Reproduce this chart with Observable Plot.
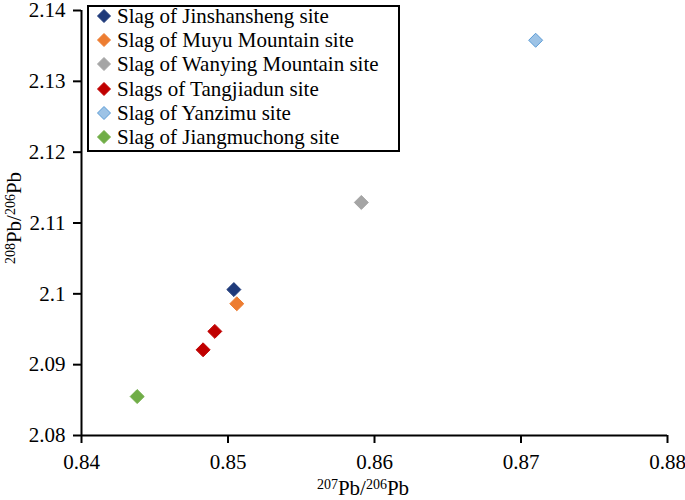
<!DOCTYPE html>
<html>
<head>
<meta charset="utf-8">
<script src="https://cdn.jsdelivr.net/npm/d3@7"></script>
<script src="https://cdn.jsdelivr.net/npm/@observablehq/plot@0.6"></script>
<style>
  body { margin: 0; background: #fff; }
  #wrap { position: relative; width: 685px; height: 500px; font-family: "Liberation Serif", "Times New Roman", serif; }
  #wrap svg text { font-family: "Liberation Serif", "Times New Roman", serif; }
  #legend { position: absolute; left: 87px; top: 5px; width: 309px; border: 2px solid #000; background: #fff; padding: 0 0 1px 0; font-size: 21px; line-height: 24.2px; color: #000; }
  #legend .row { display: flex; align-items: center; height: 24.2px; white-space: nowrap; }
  #legend .row:first-child { margin-top: -3px; }
  #legend svg { margin: 0 6px 0 8px; flex: none; }
</style>
</head>
<body>
<div id="wrap"></div>
<script>
// ---- data ----
const sites = [
  "Slag of Jinshansheng site",
  "Slag of Muyu Mountain site",
  "Slag of Wanying Mountain site",
  "Slags of Tangjiadun site",
  "Slag of Yanzimu site",
  "Slag of Jiangmuchong site"
];
const siteFill   = ["#1F3A7A", "#ED7D31", "#A5A5A5", "#C00000", "#9DC3E6", "#70AD47"];
const siteStroke = ["#1F3A7A", "#ED7D31", "#A5A5A5", "#C00000", "#5B9BD5", "#70AD47"];
const pointSite = ["Slag of Jinshansheng site", "Slag of Muyu Mountain site", "Slag of Wanying Mountain site", "Slags of Tangjiadun site", "Slags of Tangjiadun site", "Slag of Yanzimu site", "Slag of Jiangmuchong site"];
const pb207_206 = [0.8504, 0.8506, 0.8591, 0.8491, 0.8483, 0.8710, 0.8438];
const pb208_206 = [2.1006, 2.0986, 2.1129, 2.0947, 2.0921, 2.1358, 2.0855];
const xTicks = [0.84, 0.85, 0.86, 0.87, 0.88];
const xTickLabels = ["0.84", "0.85", "0.86", "0.87", "0.88"];
const yTicks = [2.08, 2.09, 2.10, 2.11, 2.12, 2.13, 2.14];
const yTickLabels = ["2.08", "2.09", "2.1", "2.11", "2.12", "2.13", "2.14"];
const xLabelParts = [["207", true], ["Pb/", false], ["206", true], ["Pb", false]];
const yLabelParts = [["208", true], ["Pb/", false], ["206", true], ["Pb", false]];

const points = pointSite.map((s, i) => ({site: s, x: pb207_206[i], y: pb208_206[i]}));
const serif = '"Liberation Serif", "Times New Roman", serif';
const fmtX = d => xTickLabels[xTicks.findIndex(t => Math.abs(t - d) < 1e-9)];
const fmtY = d => yTickLabels[yTicks.findIndex(t => Math.abs(t - d) < 1e-9)];

const chart = Plot.plot({
  width: 685,
  height: 500,
  marginLeft: 81,
  marginRight: 18,
  marginTop: 10,
  marginBottom: 65,
  style: {fontFamily: serif, fontSize: "21px", color: "#000", background: "#fff"},
  x: {domain: [0.84, 0.88], label: null},
  y: {domain: [2.08, 2.14], label: null},
  marks: [
    Plot.axisX({ticks: xTicks, tickFormat: fmtX, tickSize: 8, tickPadding: 11, strokeWidth: 2, label: null, fontSize: 21, fontFamily: serif, fill: "#000"}),
    Plot.axisY({ticks: yTicks, tickFormat: fmtY, tickSize: 8, tickPadding: 8, strokeWidth: 2, label: null, fontSize: 21, fontFamily: serif, fill: "#000"}),
    Plot.ruleY([2.08], {stroke: "#000", strokeWidth: 2}),
    Plot.ruleX([0.84], {stroke: "#000", strokeWidth: 2}),
    Plot.dot(points, {
      x: "x", y: "y", symbol: "diamond2", r: 6.3,
      fill: d => siteFill[sites.indexOf(d.site)],
      stroke: d => siteStroke[sites.indexOf(d.site)],
      strokeWidth: 1
    })
  ]
});

document.getElementById("wrap").appendChild(chart);

// axis titles with superscripts
const svg = d3.select(chart);
const ys = chart.scale("y");
function addLabel(parts, x, y, rotate) {
  const t = svg.append("text")
    .attr("text-anchor", "middle")
    .attr("font-family", serif)
    .attr("font-size", 21)
    .attr("fill", "#000")
    .attr("transform", `translate(${x},${y})` + (rotate ? " rotate(-90)" : ""));
  parts.forEach(([s, sup]) => {
    t.append("tspan")
      .attr("font-size", sup ? 14 : 21)
      .attr("baseline-shift", sup ? "40%" : null)
      .text(s);
  });
}
addLabel(xLabelParts, 363, 495, false);
addLabel(yLabelParts, 21, 218, true);

// legend overlay
const legend = d3.select("#wrap").append("div").attr("id", "legend");
sites.forEach((s, i) => {
  const row = legend.append("div").attr("class", "row");
  const sv = row.append("svg").attr("width", 14).attr("height", 14);
  sv.append("path").attr("d", "M7,0.5L13.5,7L7,13.5L0.5,7Z")
    .attr("fill", siteFill[i]).attr("stroke", siteStroke[i]).attr("stroke-width", 1);
  row.append("span").text(s);
});
</script>
</body>
</html>
